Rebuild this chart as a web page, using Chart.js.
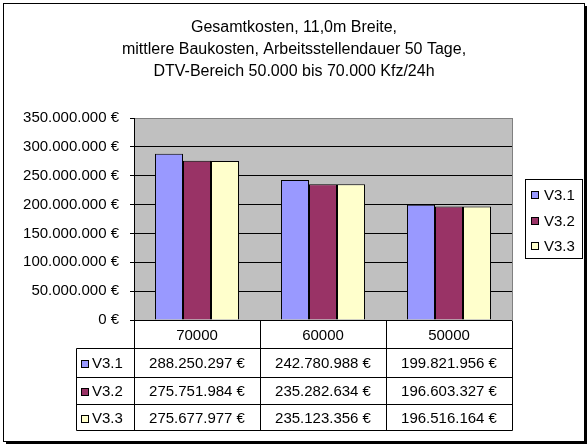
<!DOCTYPE html>
<html lang="de">
<head>
<meta charset="utf-8">
<title>Gesamtkosten</title>
<script src="https://cdn.jsdelivr.net/npm/chart.js@4"></script>
<style>
  html, body { margin: 0; padding: 0; background: #fff; }
  canvas { display: block; }
</style>
</head>
<body>
<canvas id="chart-kosten" width="588" height="445"></canvas>
<script>
// Gesamtkosten je DTV-Stufe, drei Varianten, mit Datentabelle unter dem Diagramm

const kategorien = ["70000", "60000", "50000"];
const varianten = ["V3.1", "V3.2", "V3.3"];
const werteV31 = [288250297, 242780988, 199821956];
const werteV32 = [275751984, 235282634, 196603327];
const werteV33 = [275677977, 235123356, 196516164];
const titelZeilen = [
  "Gesamtkosten, 11,0m Breite,",
  "mittlere Baukosten, Arbeitsstellendauer 50 Tage,",
  "DTV-Bereich 50.000 bis 70.000 Kfz/24h",
];

const FARBEN = ["#9999FF", "#993366", "#FFFFCC"];
const FAMILIE = "'Liberation Sans', Arial, sans-serif";
const SCHRIFT = "15px " + FAMILIE;

function euro(n) {
  return String(Math.round(n)).replace(/\B(?=(\d{3})+(?!\d))/g, ".") + " €";
}

// grauer Hintergrund der Zeichenfläche + grauer Rahmen rechts
const flaeche = {
  id: "flaeche",
  beforeDraw(chart) {
    const { ctx, chartArea: a } = chart;
    ctx.save();
    ctx.fillStyle = "#C0C0C0";
    ctx.fillRect(a.left, a.top, a.right - a.left, a.bottom - a.top);
    ctx.strokeStyle = "#808080";
    ctx.lineWidth = 1;
    ctx.beginPath();
    ctx.moveTo(Math.round(a.right) + 0.5, a.top);
    ctx.lineTo(Math.round(a.right) + 0.5, a.bottom);
    ctx.stroke();
    ctx.restore();
  },
};

function marke(ctx, x, y, farbe) {
  ctx.fillStyle = farbe;
  ctx.fillRect(x, y, 8, 8);
  ctx.strokeStyle = "#000";
  ctx.strokeRect(x + 0.5, y + 0.5, 7, 7);
}

// Datentabelle, Legende und Außenrahmen
const tabelle = {
  id: "tabelle",
  afterDraw(chart) {
    const { ctx, chartArea: a } = chart;
    const xs = chart.scales.x;
    const spalte = (a.right - a.left) / kategorien.length;
    const links = Math.round(a.left) + 0.5;
    const rechts = Math.round(a.right) + 0.5;
    const labelLinks = 76.5;
    const zeilen = [Math.round(a.bottom) + 0.5, 348.5, 377.5, 404.5, 430.5];

    ctx.save();
    ctx.lineWidth = 1;
    ctx.strokeStyle = "#000";
    ctx.font = SCHRIFT;
    ctx.textBaseline = "middle";

    // waagrechte Linien
    ctx.beginPath();
    for (let r = 1; r < zeilen.length; r++) {
      ctx.moveTo(labelLinks, zeilen[r]); ctx.lineTo(rechts, zeilen[r]);
    }
    // senkrechte Linien
    ctx.moveTo(links, zeilen[0]); ctx.lineTo(links, zeilen[4]);
    ctx.moveTo(rechts, zeilen[0]); ctx.lineTo(rechts, zeilen[4]);
    ctx.moveTo(labelLinks, zeilen[1]); ctx.lineTo(labelLinks, zeilen[4]);
    for (let i = 1; i < kategorien.length; i++) {
      const x = Math.round(a.left + spalte * i) + 0.5;
      ctx.moveTo(x, zeilen[0]); ctx.lineTo(x, zeilen[4]);
    }
    ctx.stroke();

    // Kopfzeile mit Kategorien
    ctx.fillStyle = "#000";
    ctx.textAlign = "center";
    kategorien.forEach((k, i) => {
      ctx.fillText(k, xs.getPixelForValue(i), (zeilen[0] + zeilen[1]) / 2 + 1);
    });

    // Datenzeilen
    chart.data.datasets.forEach((ds, r) => {
      const y = (zeilen[r + 1] + zeilen[r + 2]) / 2 + 1;
      marke(ctx, 81, Math.round(y) - 4, ds.backgroundColor);
      ctx.fillStyle = "#000";
      ctx.textAlign = "left";
      ctx.fillText(ds.label, 92, y);
      ctx.textAlign = "center";
      ds.data.forEach((v, i) => ctx.fillText(euro(v), xs.getPixelForValue(i), y));
    });

    // Legende rechts
    ctx.strokeStyle = "#000";
    ctx.strokeRect(525.5, 179.5, 57, 79);
    chart.data.datasets.forEach((ds, r) => {
      const y = 195 + r * 25.5;
      marke(ctx, 531, Math.round(y) - 4, ds.backgroundColor);
      ctx.fillStyle = "#000";
      ctx.textAlign = "left";
      ctx.fillText(ds.label, 544, y + 1);
    });

    // Außenrahmen mit Schatten
    ctx.strokeStyle = "#000";
    ctx.strokeRect(3.5, 3.5, 581, 438);
    ctx.fillStyle = "#000";
    ctx.fillRect(585, 6, 2, 438);
    ctx.fillRect(6, 442, 581, 2);
    ctx.restore();
  },
};

new Chart(document.getElementById("chart-kosten"), {
  type: "bar",
  data: {
    labels: kategorien,
    datasets: [werteV31, werteV32, werteV33].map((werte, i) => ({
      label: varianten[i],
      data: werte,
      backgroundColor: FARBEN[i],
      borderColor: "#000",
      borderWidth: 1,
      borderSkipped: "bottom",
      categoryPercentage: 0.667,
      barPercentage: 1,
    })),
  },
  options: {
    responsive: false,
    animation: false,
    devicePixelRatio: 1,
    layout: { padding: { top: 0, left: 0, right: 0, bottom: 125 } },
    plugins: {
      legend: { display: false },
      tooltip: { enabled: false },
      title: {
        display: true,
        text: titelZeilen,
        color: "#000",
        font: { family: FAMILIE, size: 16, weight: "normal", lineHeight: "22px" },
        padding: { top: 17, bottom: 35 },
      },
    },
    scales: {
      x: { display: false },
      y: {
        min: 0,
        max: 350000000,
        afterFit: (s) => { s.width = 134; },
        border: { display: true, color: "#000", width: 1 },
        grid: {
          color: (c) => (c.tick && c.tick.value === 350000000 ? "#808080" : "#000"),
          tickColor: "#000",
          tickLength: 4,
        },
        ticks: {
          stepSize: 50000000,
          padding: 11,
          color: "#000",
          font: { family: FAMILIE, size: 15 },
          callback: (v) => euro(v),
        },
      },
      // leere Achse rechts hält Platz für die Legende frei
      rand: {
        type: "linear",
        position: "right",
        afterFit: (s) => { s.width = 76; },
        border: { display: false },
        grid: { display: false },
        ticks: { display: false },
      },
    },
  },
  plugins: [flaeche, tabelle],
});
</script>
</body>
</html>
